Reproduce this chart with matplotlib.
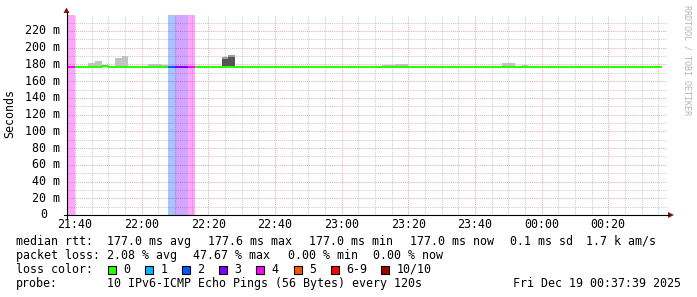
import matplotlib
matplotlib.use("Agg")
import matplotlib.pyplot as plt
from matplotlib.patches import Rectangle, Polygon
from matplotlib.lines import Line2D

plt.rcParams['font.family'] = ['DejaVu Sans Mono', 'DejaVu Sans']

# ---------------- data ----------------
graph_start = "21:37:39"
graph_end = "00:37:39"

xtick_labels = ["21:40", "22:00", "22:20", "22:40", "23:00", "23:20", "23:40", "00:00", "00:20"]
ytick_values = [0, 20, 40, 60, 80, 100, 120, 140, 160, 180, 200, 220]
ytick_labels = ["0", "20 m", "40 m", "60 m", "80 m", "100 m", "120 m", "140 m",
                "160 m", "180 m", "200 m", "220 m"]

# median rtt (ms), piecewise constant from each start time
median_start = ["21:37:39", "21:48", "21:50", "22:26", "22:28"]
median_value = [177.0, 177.6, 177.0, 177.4, 177.0]
median_end = "00:36"

# packet loss periods (index into loss colours)
loss_start = ["21:37:39", "22:08", "22:10", "22:14"]
loss_end = ["21:40", "22:10", "22:14", "22:16"]
loss_level = [4, 2, 3, 4]

# smoke (individual ping spread), 2-minute steps
smoke_time = ["21:44", "21:46", "21:48", "21:52", "21:54", "22:02", "22:04", "22:06",
              "22:24", "22:26", "23:12", "23:14", "23:16", "23:18", "23:48", "23:50", "23:54"]
smoke_low = [176.6] * 17
smoke_high = [181.7, 184.1, 179.8, 187.7, 190.3, 180.5, 180.5, 179.8,
              189.0, 191.3, 179.7, 179.7, 180.9, 180.9, 181.7, 181.7, 179.3]
smoke_dark = [0, 0, 0, 0, 0, 0, 0, 0, 186.5, 188.9, 0, 0, 0, 0, 0, 0, 0]

loss_names = ["0", "1", "2", "3", "4", "5", "6-9", "10/10"]
loss_colors = ["#26ff00", "#00b8ff", "#0059ff", "#7e00ff", "#ff00ff", "#ff5500", "#ff0000", "#a10000"]

stats_rtt = ["177.0 ms avg", "177.6 ms max", "177.0 ms min", "177.0 ms now", "0.1 ms sd", "1.7 k am/s"]
stats_loss = ["2.08 % avg", "47.67 % max", "0.00 % min", "0.00 % now"]
probe_text = "10 IPv6-ICMP Echo Pings (56 Bytes) every 120s"
date_text = "Fri Dec 19 00:37:39 2025"

# ---------------- helpers ----------------
W, H = 697, 297


def tmin(s):
    parts = [int(p) for p in s.split(':')]
    h, m = parts[0], parts[1]
    sec = parts[2] if len(parts) > 2 else 0
    if h < 12:
        h += 24
    return (h - 21) * 60 + m + sec / 60.0


def fx(x):
    return x / W


def fy(y):
    return 1 - y / H


fig = plt.figure(figsize=(W / 100, H / 100), dpi=100)
fig.patch.set_facecolor("white")
ax = fig.add_axes([fx(67), fy(215), 600 / W, 200 / H])
ax.set_xlim(tmin(graph_start), tmin(graph_end))
ax.set_ylim(0, 239.1)
ax.axis('off')
x0, x1 = ax.get_xlim()

# ---------------- grid ----------------
gray = "#cdcdcd"
red = "#e8b0b0"
dot = (0, (1, 1))
t = 40.0
while t < x1:
    is_major = (int(round(t)) - 40) % 20 == 0
    ax.axvline(t, color=red if is_major else gray, lw=0.75, ls=dot, zorder=1)
    t += 5
for v in range(10, 240, 10):
    ax.axhline(v, color=red if v % 20 == 0 else gray, lw=0.75, ls=dot, zorder=1)

# ---------------- loss bands ----------------
for s, e, k in zip(loss_start, loss_end, loss_level):
    ax.axvspan(tmin(s), tmin(e), color=loss_colors[k], alpha=0.35, lw=0, zorder=2)

# ---------------- smoke ----------------
for s, lo, hi, dk in zip(smoke_time, smoke_low, smoke_high, smoke_dark):
    if dk > 0:
        ax.bar(tmin(s), hi - lo, bottom=lo, width=2, align='edge', color="#9c9c9c", lw=0, zorder=3)
        ax.bar(tmin(s), dk - lo, bottom=lo, width=2, align='edge', color="#555555", lw=0, zorder=3)
    else:
        ax.bar(tmin(s), hi - lo, bottom=lo, width=2, align='edge', color="#c2c2c2", lw=0, zorder=3)

# ---------------- median line ----------------
mx = [tmin(s) for s in median_start] + [tmin(median_end)]
my = median_value + [median_value[-1]]
ax.plot(mx, my, drawstyle='steps-post', color=loss_colors[0], lw=1.45,
        solid_capstyle='butt', zorder=4)


def median_at(tt):
    val = median_value[0]
    for s, v in zip(median_start, median_value):
        if tmin(s) <= tt:
            val = v
    return val


for s, e, k in zip(loss_start, loss_end, loss_level):
    m = median_at(tmin(s))
    ax.plot([tmin(s), tmin(e)], [m, m], color=loss_colors[k], lw=1.45,
            solid_capstyle='butt', zorder=5)

# ---------------- tick labels ----------------
fs = 8.35
for lab in xtick_labels:
    ax.text(tmin(lab), -0.05, lab, transform=ax.get_xaxis_transform(),
            ha='center', va='center', fontsize=fs)
for v, lab in zip(ytick_values, ytick_labels):
    xr = (60 - 67) / 600 if v != 0 else (47 - 67) / 600
    ax.text(xr, v, lab, transform=ax.get_yaxis_transform(),
            ha='right', va='center', fontsize=fs)

fig.text(fx(10), fy(114), "Seconds", rotation=90, ha='center', va='center', fontsize=fs)
fig.text(fx(687), fy(60), "RRDTOOL / TOBI OETIKER", rotation=270, ha='center', va='center',
         fontsize=6, color="#b4b4b4")

# ---------------- axes lines + arrows ----------------
fig.add_artist(Line2D([fx(64), fx(669)], [fy(215), fy(215)], color="black", lw=0.8))
fig.add_artist(Line2D([fx(66.5), fx(66.5)], [fy(218), fy(12)], color="black", lw=0.8))
arrow_col = "#8b1010"
fig.add_artist(Polygon([(fx(63.5), fy(13)), (fx(69.5), fy(13)), (fx(66.5), fy(7.5))],
                       closed=True, color=arrow_col, lw=0))
fig.add_artist(Polygon([(fx(668), fy(212)), (fx(668), fy(218)), (fx(674), fy(215))],
                       closed=True, color=arrow_col, lw=0))

# ---------------- legend text ----------------
rows = [241.5, 255.5, 269.5, 283.5]
fig.text(fx(16), fy(rows[0]), "median rtt:", ha='left', va='center', fontsize=fs)
for xp, s in zip([107, 208, 309, 410, 510, 586], stats_rtt):
    fig.text(fx(xp), fy(rows[0]), s, ha='left', va='center', fontsize=fs)

fig.text(fx(16), fy(rows[1]), "packet loss:", ha='left', va='center', fontsize=fs)
for xp, s in zip([107, 193, 288, 373], stats_loss):
    fig.text(fx(xp), fy(rows[1]), s, ha='left', va='center', fontsize=fs)

fig.text(fx(16), fy(rows[2]), "loss color:", ha='left', va='center', fontsize=fs)
box_x = [108, 145, 182, 219, 256, 294, 331, 381]
for bx, name, col in zip(box_x, loss_names, loss_colors):
    fig.add_artist(Rectangle((fx(bx), fy(rows[2] + 4)), 8 / W, 8 / H,
                             facecolor=col, edgecolor="black", lw=0.8))
    fig.text(fx(bx + 15.5), fy(rows[2]), name, ha='left', va='center', fontsize=fs)

fig.text(fx(16), fy(rows[3]), "probe:", ha='left', va='center', fontsize=fs)
fig.text(fx(107), fy(rows[3]), probe_text, ha='left', va='center', fontsize=fs)
fig.text(fx(513), fy(rows[3]), date_text, ha='left', va='center', fontsize=fs)

fig.savefig("out.png", dpi=100, facecolor="white")
